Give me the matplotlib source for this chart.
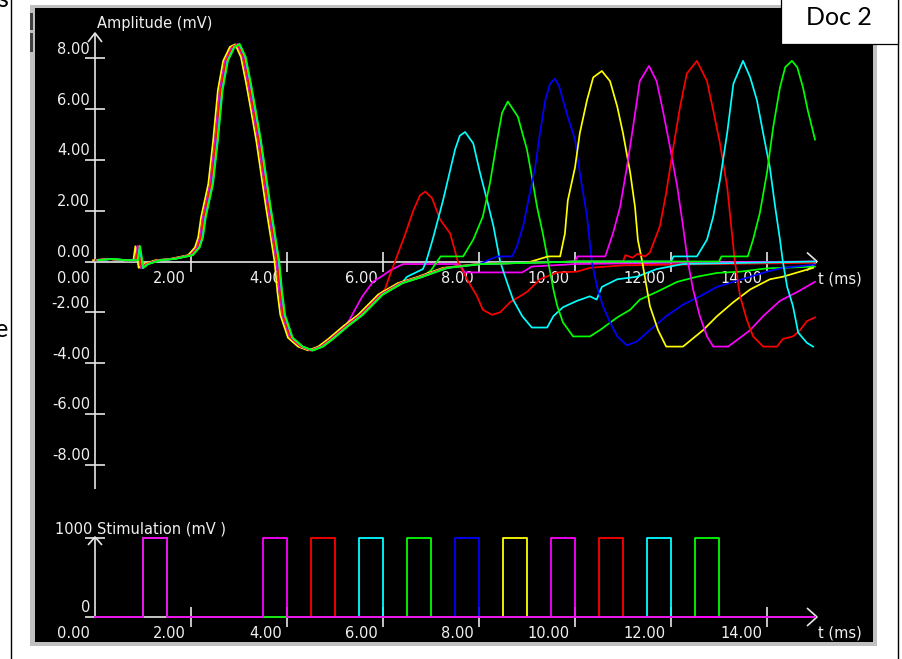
import matplotlib
matplotlib.use('Agg')
import matplotlib.pyplot as plt
from matplotlib.patches import Rectangle
from matplotlib.lines import Line2D

# ------------------------------------------------------------------ data
time_ticks = [0, 2, 4, 6, 8, 10, 12, 14]
time_tick_labels = ['0.00', '2.00', '4.00', '6.00', '8.00', '10.00', '12.00', '14.00']
amp_ticks = [8, 6, 4, 2, 0, -2, -4, -6, -8]
amp_tick_labels = ['8.00', '6.00', '4.00', '2.00', '0.00', '-2.00', '-4.00', '-6.00', '-8.00']

# first (common) response, ms / mV
first_t = [0.0, 0.3, 0.6, 0.84, 0.88, 0.95, 1.05, 1.3, 1.6, 1.98,
           2.12, 2.19, 2.25, 2.4, 2.5, 2.6, 2.71, 2.85, 2.96, 3.08,
           3.19, 3.29, 3.4, 3.5, 3.6, 3.71, 3.78, 3.84, 3.9, 4.06,
           4.27, 4.48, 4.69, 4.9, 5.21, 5.52, 5.94, 6.35, 6.77, 7.29,
           8.0, 9.0, 10.0, 15.0]
first_v = [0.05, 0.1, 0.05, 0.05, 0.6, -0.25, -0.1, 0.05, 0.1, 0.25,
           0.55, 0.95, 1.75, 3.05, 4.75, 6.75, 7.9, 8.45, 8.55, 8.05,
           7.0, 5.95, 4.75, 3.45, 2.15, 0.85, 0.0, -1.2, -2.1, -3.0,
           -3.35, -3.5, -3.35, -3.05, -2.55, -2.1, -1.3, -0.85, -0.6, -0.25,
           -0.1, -0.05, 0.0, 0.0]

# second responses (each trace after its second stimulus)
mag1_t = [5.3, 5.56, 5.79, 6.0, 6.15, 6.31, 6.42, 7.6, 7.7, 8.9, 9.1, 10.0, 12.0, 15.0]
mag1_v = [-2.3, -1.4, -0.8, -0.55, -0.35, -0.2, -0.1, -0.1, -0.43, -0.43, -0.2, -0.1, -0.05, 0.0]

red1_t = [5.9, 6.04, 6.15, 6.25, 6.46, 6.63, 6.77, 6.88, 7.02, 7.19, 7.4, 7.56, 7.75,
          7.96, 8.08, 8.27, 8.44, 8.65, 9.0, 9.27, 9.63, 10.04, 10.31, 11.0, 13.0, 15.0]
red1_v = [-1.35, -1.1, -0.5, 0.0, 1.06, 2.0, 2.6, 2.75, 2.5, 1.65, 1.1, 0.0, -0.7,
          -1.37, -1.9, -2.1, -2.0, -1.6, -1.2, -0.7, -0.43, -0.4, -0.25, -0.15, -0.1, -0.05]

cyan1_t = [6.5, 6.83, 6.9, 7.04, 7.25, 7.4, 7.5, 7.6, 7.71, 7.88, 8.02, 8.17, 8.3, 8.44, 8.58,
           8.71, 8.9, 9.1, 9.42, 9.55, 9.75, 10.04, 10.31, 10.45, 10.56, 10.88, 11.29, 11.7, 12.25, 15.0]
cyan1_v = [-0.6, -0.3, 0.0, 0.9, 2.4, 3.6, 4.4, 4.95, 5.1, 4.65, 3.5, 2.4, 1.4, 0.0, -0.8,
           -1.5, -2.15, -2.6, -2.6, -2.15, -1.8, -1.55, -1.37, -1.5, -1.0, -0.7, -0.6, -0.3, -0.1, 0.0]

green1_t = [7.0, 7.2, 7.67, 7.88, 8.08, 8.23, 8.38, 8.48, 8.6, 8.81, 9.0, 9.1, 9.21, 9.33, 9.44,
            9.55, 9.63, 9.75, 9.96, 10.31, 10.52, 10.88, 11.15, 11.35, 11.7, 12.13, 12.54, 12.96,
            13.44, 14.0, 15.0]
green1_v = [-0.35, 0.2, 0.2, 0.86, 1.77, 3.1, 4.8, 5.85, 6.3, 5.7, 4.4, 3.35, 2.15, 1.1, 0.0,
            -1.1, -1.75, -2.4, -2.95, -2.95, -2.7, -2.2, -1.9, -1.5, -1.2, -0.8, -0.6, -0.45,
            -0.4, -0.27, -0.2]

blue1_t = [8.0, 8.38, 8.69, 8.79, 8.92, 9.06, 9.17, 9.27, 9.38, 9.48, 9.58, 9.67, 9.75, 9.85,
           10.0, 10.1, 10.25, 10.35, 10.46, 10.58, 10.73, 10.88, 11.08, 11.29, 11.56, 11.9,
           12.25, 12.6, 12.96, 13.3, 13.65, 14.0, 14.33, 15.0]
blue1_v = [-0.1, 0.2, 0.2, 0.6, 1.4, 2.7, 3.7, 5.05, 6.35, 7.0, 7.2, 6.9, 6.35, 5.7,
           4.8, 3.5, 1.77, 0.0, -1.0, -1.75, -2.4, -2.95, -3.3, -3.15, -2.7, -2.15,
           -1.7, -1.37, -1.0, -0.8, -0.6, -0.4, -0.25, -0.12]

yellow1_t = [9.0, 9.44, 9.69, 9.79, 9.85, 10.0, 10.1, 10.25, 10.38, 10.56, 10.73, 10.88, 11.0,
             11.15, 11.25, 11.31, 11.4, 11.56, 11.73, 11.9, 12.25, 12.67, 12.96, 13.3, 13.65,
             14.06, 14.33, 14.96]
yellow1_v = [-0.05, 0.2, 0.2, 1.1, 2.4, 3.7, 5.05, 6.35, 7.25, 7.5, 7.1, 6.1, 5.05,
             3.5, 2.15, 0.85, 0.0, -1.75, -2.7, -3.35, -3.35, -2.7, -2.15, -1.6, -1.1,
             -0.7, -0.6, -0.25]

mag2_t = [10.0, 10.05, 10.63, 10.79, 10.94, 11.08, 11.21, 11.35, 11.54, 11.7, 11.83, 11.98, 12.13,
          12.25, 12.35, 12.46, 12.6, 12.75, 12.88, 13.19, 13.44, 13.65, 13.92, 14.27, 14.63, 15.0]
mag2_v = [0.0, 0.2, 0.2, 1.1, 2.15, 3.7, 5.3, 7.1, 7.7, 7.1, 5.95, 4.5, 2.95,
          1.4, 0.0, -1.1, -2.15, -2.95, -3.35, -3.35, -3.0, -2.7, -2.15, -1.55, -1.2, -0.8]

red2_t = [11.0, 11.05, 11.2, 11.3, 11.46, 11.56, 11.77, 11.9, 12.04, 12.19, 12.33, 12.54, 12.75,
          12.88, 13.02, 13.17, 13.27, 13.33, 13.44, 13.58, 13.71, 13.92, 14.21, 14.33, 14.54,
          14.69, 14.83, 15.0]
red2_v = [0.0, 0.25, 0.15, 0.3, 0.2, 0.35, 1.4, 2.7, 4.4, 6.1, 7.4, 7.9, 7.1,
          5.95, 4.65, 2.95, 1.1, 0.0, -1.37, -2.3, -2.95, -3.35, -3.35, -3.05, -2.95,
          -2.7, -2.35, -2.2]

cyan2_t = [12.0, 12.05, 12.54, 12.75, 12.88, 13.02, 13.17, 13.3, 13.5, 13.65, 13.79, 13.92, 14.06,
           14.17, 14.27, 14.33, 14.42, 14.54, 14.65, 14.83, 14.96]
cyan2_v = [0.0, 0.2, 0.2, 0.86, 1.77, 3.2, 5.05, 7.0, 7.9, 7.25, 6.35, 5.05, 3.7,
           2.15, 0.86, 0.0, -1.0, -1.75, -2.8, -3.2, -3.35]

green2_t = [13.0, 13.05, 13.6, 13.71, 13.85, 14.0, 14.13, 14.27, 14.38, 14.52, 14.63, 14.75, 14.85, 15.0]
green2_v = [0.0, 0.2, 0.2, 0.86, 1.9, 3.5, 5.3, 6.85, 7.65, 7.9, 7.65, 6.85, 5.95, 4.8]

trace_colors = ['#ff00ff', '#ff0000', '#00ffff', '#00ff00', '#0000ff',
                '#ffff00', '#ff00ff', '#ff0000', '#00ffff', '#00ff00']
second_parts = [(mag1_t, mag1_v), (red1_t, red1_v), (cyan1_t, cyan1_v), (green1_t, green1_v),
                (blue1_t, blue1_v), (yellow1_t, yellow1_v), (mag2_t, mag2_v), (red2_t, red2_v),
                (cyan2_t, cyan2_v), (green2_t, green2_v)]
# small latency differences of the first response between sweeps (ms)
first_lag_ms = [0.0, 0.02, 0.04, 0.05, 0.03, -0.04, 0.01, 0.02, 0.05, 0.06]

# stimulation
first_stim_ms = 1.0
second_stim_ms = [3.5, 4.5, 5.5, 6.5, 7.5, 8.5, 9.5, 10.5, 11.5, 12.5]
pulse_width_ms = 0.5
stim_amplitude = 1000
stim_end_ms = 15.0
stim_draw_order = [1, 2, 4, 5, 7, 8, 3, 6, 9, 0]

# ------------------------------------------------------------------ layout
W, H = 902, 659
TXT = '#f0f0f0'
AXC = '#e6e6e6'
FS = 10.5
plt.rcParams['font.family'] = ['DejaVu Sans']

fig = plt.figure(figsize=(W / 100, H / 100), dpi=100, facecolor='white')


def fx(px):
    return px / W


def fy(py):
    return 1 - py / H


# page decorations
fig.add_artist(Rectangle((fx(30), fy(646)), fx(877) - fx(30), fy(5) - fy(646),
                         facecolor='#c0c0c0', edgecolor='none', transform=fig.transFigure, zorder=-2))
fig.add_artist(Rectangle((fx(30), fy(30)), fx(33) - fx(30), fy(13) - fy(30),
                         facecolor='#404040', edgecolor='none', transform=fig.transFigure, zorder=-1))
fig.add_artist(Rectangle((fx(30), fy(52)), fx(33) - fx(30), fy(33) - fy(52),
                         facecolor='#404040', edgecolor='none', transform=fig.transFigure, zorder=-1))
fig.add_artist(Line2D([fx(10.5), fx(10.5)], [0, 1], color='black', lw=1.0, transform=fig.transFigure))
fig.add_artist(Line2D([fx(897.5), fx(897.5)], [0, 1], color='black', lw=1.0, transform=fig.transFigure))
fig.text(fx(9), fy(337), 're', fontsize=18, family='Lato', ha='right', va='baseline', color='black')
fig.text(fx(8), fy(7), 's', fontsize=18, family='Lato', ha='right', va='baseline', color='black')

X0, PXMS = 95.0, 48.0          # x pixel of t=0, pixels per ms
Y0, PXMV = 261.5, 25.4          # y pixel of 0 mV, pixels per mV
S0, PXST = 617.0, 0.079         # y pixel of 0 stim, pixels per stim unit

ax = fig.add_axes([fx(35), fy(500), fx(873) - fx(35), fy(8) - fy(500)])
axs = fig.add_axes([fx(35), fy(642), fx(873) - fx(35), fy(500) - fy(642)])
for a in (ax, axs):
    a.set_facecolor('black')
    for sp in a.spines.values():
        sp.set_visible(False)
    a.set_xticks([])
    a.set_yticks([])
    a.set_xlim((35 - X0) / PXMS, (873 - X0) / PXMS)
ax.set_ylim((Y0 - 500) / PXMV, (Y0 - 8) / PXMV)
axs.set_ylim((S0 - 642) / PXST, (S0 - 500) / PXST)

xend = (817 - X0) / PXMS
tk = 10 / PXMS
lkw = dict(color=AXC, lw=1.2, zorder=1, solid_capstyle='butt')

# ---- main panel axes
ax.plot([-tk, xend], [0, 0], **lkw)
ax.plot([xend - 10 / PXMS, xend, xend - 10 / PXMS], [9 / PXMV, 0, -9 / PXMV], **lkw)
ytop = (Y0 - 33) / PXMV
ybot = (Y0 - 489) / PXMV
ax.plot([0, 0], [ybot, ytop], **lkw)
ax.plot([-7 / PXMS, 0, 7 / PXMS], [ytop - 9 / PXMV, ytop, ytop - 9 / PXMV], **lkw)
for v, lab in zip(amp_ticks, amp_tick_labels):
    if v != 0:
        ax.plot([-tk, tk], [v, v], **lkw)
    ax.annotate(lab, xy=(0, v), xytext=(-5, 4.5), textcoords='offset pixels',
                ha='right', va='baseline', color=TXT, fontsize=FS, zorder=1.5)
for t, lab in zip(time_ticks, time_tick_labels):
    if t != 0:
        ax.plot([t, t], [-10 / PXMV, 10 / PXMV], **lkw)
    ax.annotate(lab, xy=(t, 0), xytext=(-5, -21.5), textcoords='offset pixels',
                ha='right', va='baseline', color=TXT, fontsize=FS, zorder=1.5)
ax.annotate('Amplitude (mV)', xy=(0, ytop), xytext=(2, 5), textcoords='offset pixels',
            ha='left', va='baseline', color=TXT, fontsize=FS, zorder=1.5, annotation_clip=False)
ax.annotate('t (ms)', xy=(xend, 0), xytext=(1, -21.5), textcoords='offset pixels',
            ha='left', va='baseline', color=TXT, fontsize=FS, zorder=1.5)

# ---- main traces
for (st, sv), lag, col in zip(second_parts, first_lag_ms, trace_colors):
    start = st[0]
    tt = [t + lag for t in first_t if t + lag < start]
    vv = [v for t, v in zip(first_t, first_v) if t + lag < start]
    ax.plot(tt + list(st), vv + list(sv), color=col, lw=1.25, zorder=3)

# ---- stimulation panel axes
stk = 10 / PXST
axs.plot([-tk, xend], [0, 0], **lkw)
axs.plot([xend - 10 / PXMS, xend, xend - 10 / PXMS], [9 / PXST, 0, -9 / PXST], **lkw)
stop = (S0 - 537) / PXST
axs.plot([0, 0], [0, stop], **lkw)
axs.plot([-7 / PXMS, 0, 7 / PXMS], [stop - 8 / PXST, stop, stop - 8 / PXST], **lkw)
axs.plot([-tk, tk], [stim_amplitude, stim_amplitude], **lkw)
axs.annotate('0', xy=(0, 0), xytext=(-5, 5), textcoords='offset pixels',
             ha='right', va='baseline', color=TXT, fontsize=FS, zorder=1.5)
axs.annotate('1000 Stimulation (mV )', xy=(0, stim_amplitude), xytext=(-40, 5),
             textcoords='offset pixels', ha='left', va='baseline', color=TXT, fontsize=FS, zorder=1.5)
for t, lab in zip(time_ticks, time_tick_labels):
    if t != 0:
        axs.plot([t, t], [-stk, stk], **lkw)
    axs.annotate(lab, xy=(t, 0), xytext=(-5, -21), textcoords='offset pixels',
                 ha='right', va='baseline', color=TXT, fontsize=FS, zorder=1.5)
axs.annotate('t (ms)', xy=(xend, 0), xytext=(1, -21), textcoords='offset pixels',
             ha='left', va='baseline', color=TXT, fontsize=FS, zorder=1.5)

for i in stim_draw_order:
    s = second_stim_ms[i]
    t = [0, first_stim_ms, first_stim_ms, first_stim_ms + pulse_width_ms,
         first_stim_ms + pulse_width_ms, s, s, s + pulse_width_ms, s + pulse_width_ms, stim_end_ms]
    v = [0, 0, stim_amplitude, stim_amplitude, 0, 0, stim_amplitude, stim_amplitude, 0, 0]
    axs.plot(t, v, color=trace_colors[i], lw=1.3, zorder=3)

# ---- "Doc 2" label box
fig.add_artist(Rectangle((fx(780.5), fy(43.5)), fx(897.5) - fx(780.5), fy(-2) - fy(43.5),
                         facecolor='white', edgecolor='black', lw=0.9, transform=fig.transFigure, zorder=10))
fig.text(fx(838.5), fy(25), 'Doc 2', fontsize=18, family='Lato', ha='center', va='baseline',
         color='black', zorder=11)

fig.savefig('out.png', dpi=100, facecolor='white')
